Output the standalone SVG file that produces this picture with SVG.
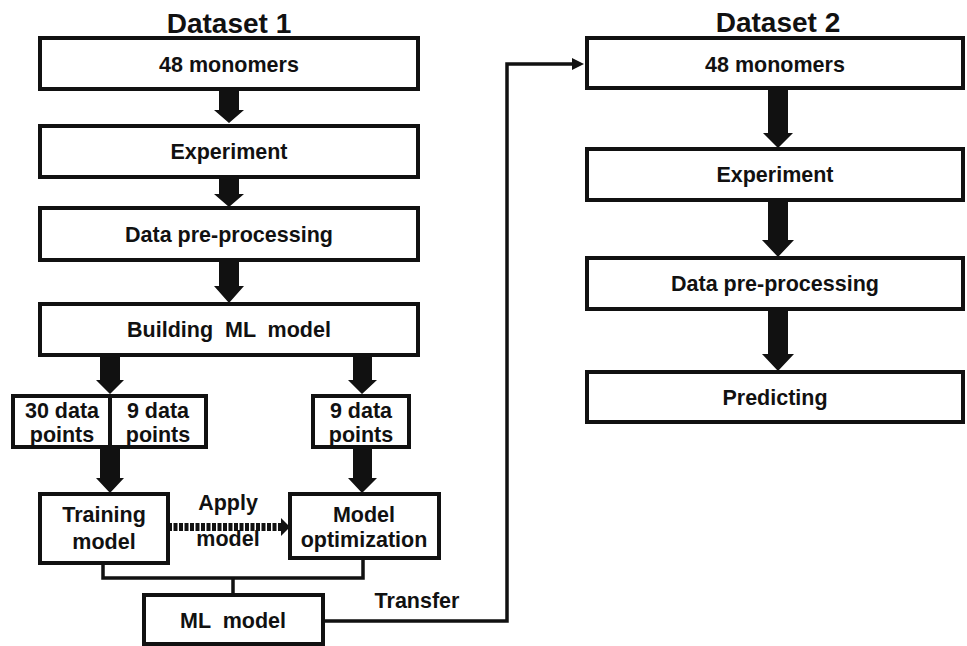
<svg xmlns="http://www.w3.org/2000/svg" width="967" height="646" viewBox="0 0 967 646">
  <style>
    .box { fill: #fff; stroke: #111; stroke-width: 4; }
    .lbl { font-family: "Liberation Sans", Arial, sans-serif; font-weight: bold; font-size: 21.5px; fill: #111; text-anchor: middle; }
    .title { font-family: "Liberation Sans", Arial, sans-serif; font-weight: bold; font-size: 28px; fill: #111; text-anchor: middle; }
    .big { fill: #111; }
    .wire { fill: none; stroke: #111; stroke-width: 3.5; }
  </style>
  <rect width="967" height="646" fill="#fff"/>

  <text class="title" x="229" y="33">Dataset 1</text>
  <text class="title" x="778" y="32">Dataset 2</text>

  <!-- connectors -->
  <g id="connectors">
    <!-- left column block arrows -->
    <polygon class="big" points="219,89 239,89 239,110 244,110 229,123 214,110 219,110"/>
    <polygon class="big" points="219,177 239,177 239,194 244,194 229,207 214,194 219,194"/>
    <polygon class="big" points="219,260 239,260 239,286 244,286 229,303 214,286 219,286"/>
    <polygon class="big" points="100,355 120,355 120,380 124,380 110,394 96,380 100,380"/>
    <polygon class="big" points="353,355 372,355 372,380 377,380 362,394 348,380 353,380"/>
    <polygon class="big" points="100,447 120,447 120,478 124,478 110,493 96,478 100,478"/>
    <polygon class="big" points="353,447 372,447 372,478 377,478 362,493 348,478 353,478"/>
    <!-- right column block arrows -->
    <polygon class="big" points="768,88 788,88 788,133 793,133 778,148 763,133 768,133"/>
    <polygon class="big" points="768,200 788,200 788,240 794,240 778,257 762,240 768,240"/>
    <polygon class="big" points="768,309 788,309 788,354 794,354 778,371 762,354 768,354"/>
    <!-- apply model (dashed) -->
    <line x1="168" y1="527" x2="283" y2="527" stroke="#111" stroke-width="8" stroke-dasharray="4 1.5"/>
    <polygon class="big" points="281,518 290,527 281,536"/>
    <!-- merge into ML model -->
    <polyline class="wire" points="103,563 103,578 363,578 363,558"/>
    <line class="wire" x1="233" y1="578" x2="233" y2="594"/>
    <!-- transfer to dataset 2 -->
    <polyline class="wire" points="323,621 507,621 507,64 574,64"/>
    <polygon class="big" points="572,58 584,64 572,70"/>
  </g>

  <!-- Dataset 1 -->
  <g id="d1-monomers"><rect class="box" x="40" y="38" width="378" height="51"/><text class="lbl" x="229" y="72">48 monomers</text></g>
  <g id="d1-experiment"><rect class="box" x="40" y="126" width="378" height="51"/><text class="lbl" x="229" y="159">Experiment</text></g>
  <g id="d1-preprocessing"><rect class="box" x="40" y="208" width="378" height="52"/><text class="lbl" x="229" y="242">Data pre-processing</text></g>
  <g id="d1-building"><rect class="box" x="40" y="304" width="378" height="51"/><text class="lbl" x="229" y="337" xml:space="preserve">Building  ML  model</text></g>
  <g id="split-30"><rect class="box" x="13" y="396" width="97" height="51"/><text class="lbl" x="62" y="418">30 data</text><text class="lbl" x="62" y="442">points</text></g>
  <g id="split-9a"><rect class="box" x="110" y="396" width="96" height="51"/><text class="lbl" x="158" y="418">9 data</text><text class="lbl" x="158" y="442">points</text></g>
  <g id="split-9b"><rect class="box" x="313" y="396" width="96" height="51"/><text class="lbl" x="361" y="418">9 data</text><text class="lbl" x="361" y="442">points</text></g>
  <g id="training"><rect class="box" x="40" y="494" width="128" height="69"/><text class="lbl" x="104" y="522">Training</text><text class="lbl" x="104" y="549">model</text></g>
  <g id="optimization"><rect class="box" x="290" y="494" width="149" height="64"/><text class="lbl" x="364" y="522">Model</text><text class="lbl" x="364" y="547">optimization</text></g>
  <g id="ml-model"><rect class="box" x="144" y="595" width="179" height="49"/><text class="lbl" x="233" y="628" xml:space="preserve">ML  model</text></g>
  <g id="labels">
    <text class="lbl" x="228" y="510">Apply</text>
    <text class="lbl" x="228" y="546">model</text>
    <text class="lbl" x="417" y="608">Transfer</text>
  </g>

  <!-- Dataset 2 -->
  <g id="d2-monomers"><rect class="box" x="587" y="38" width="376" height="50"/><text class="lbl" x="775" y="72">48 monomers</text></g>
  <g id="d2-experiment"><rect class="box" x="587" y="149" width="376" height="51"/><text class="lbl" x="775" y="182">Experiment</text></g>
  <g id="d2-preprocessing"><rect class="box" x="587" y="258" width="376" height="51"/><text class="lbl" x="775" y="291">Data pre-processing</text></g>
  <g id="d2-predicting"><rect class="box" x="587" y="372" width="376" height="50"/><text class="lbl" x="775" y="405">Predicting</text></g>
</svg>
